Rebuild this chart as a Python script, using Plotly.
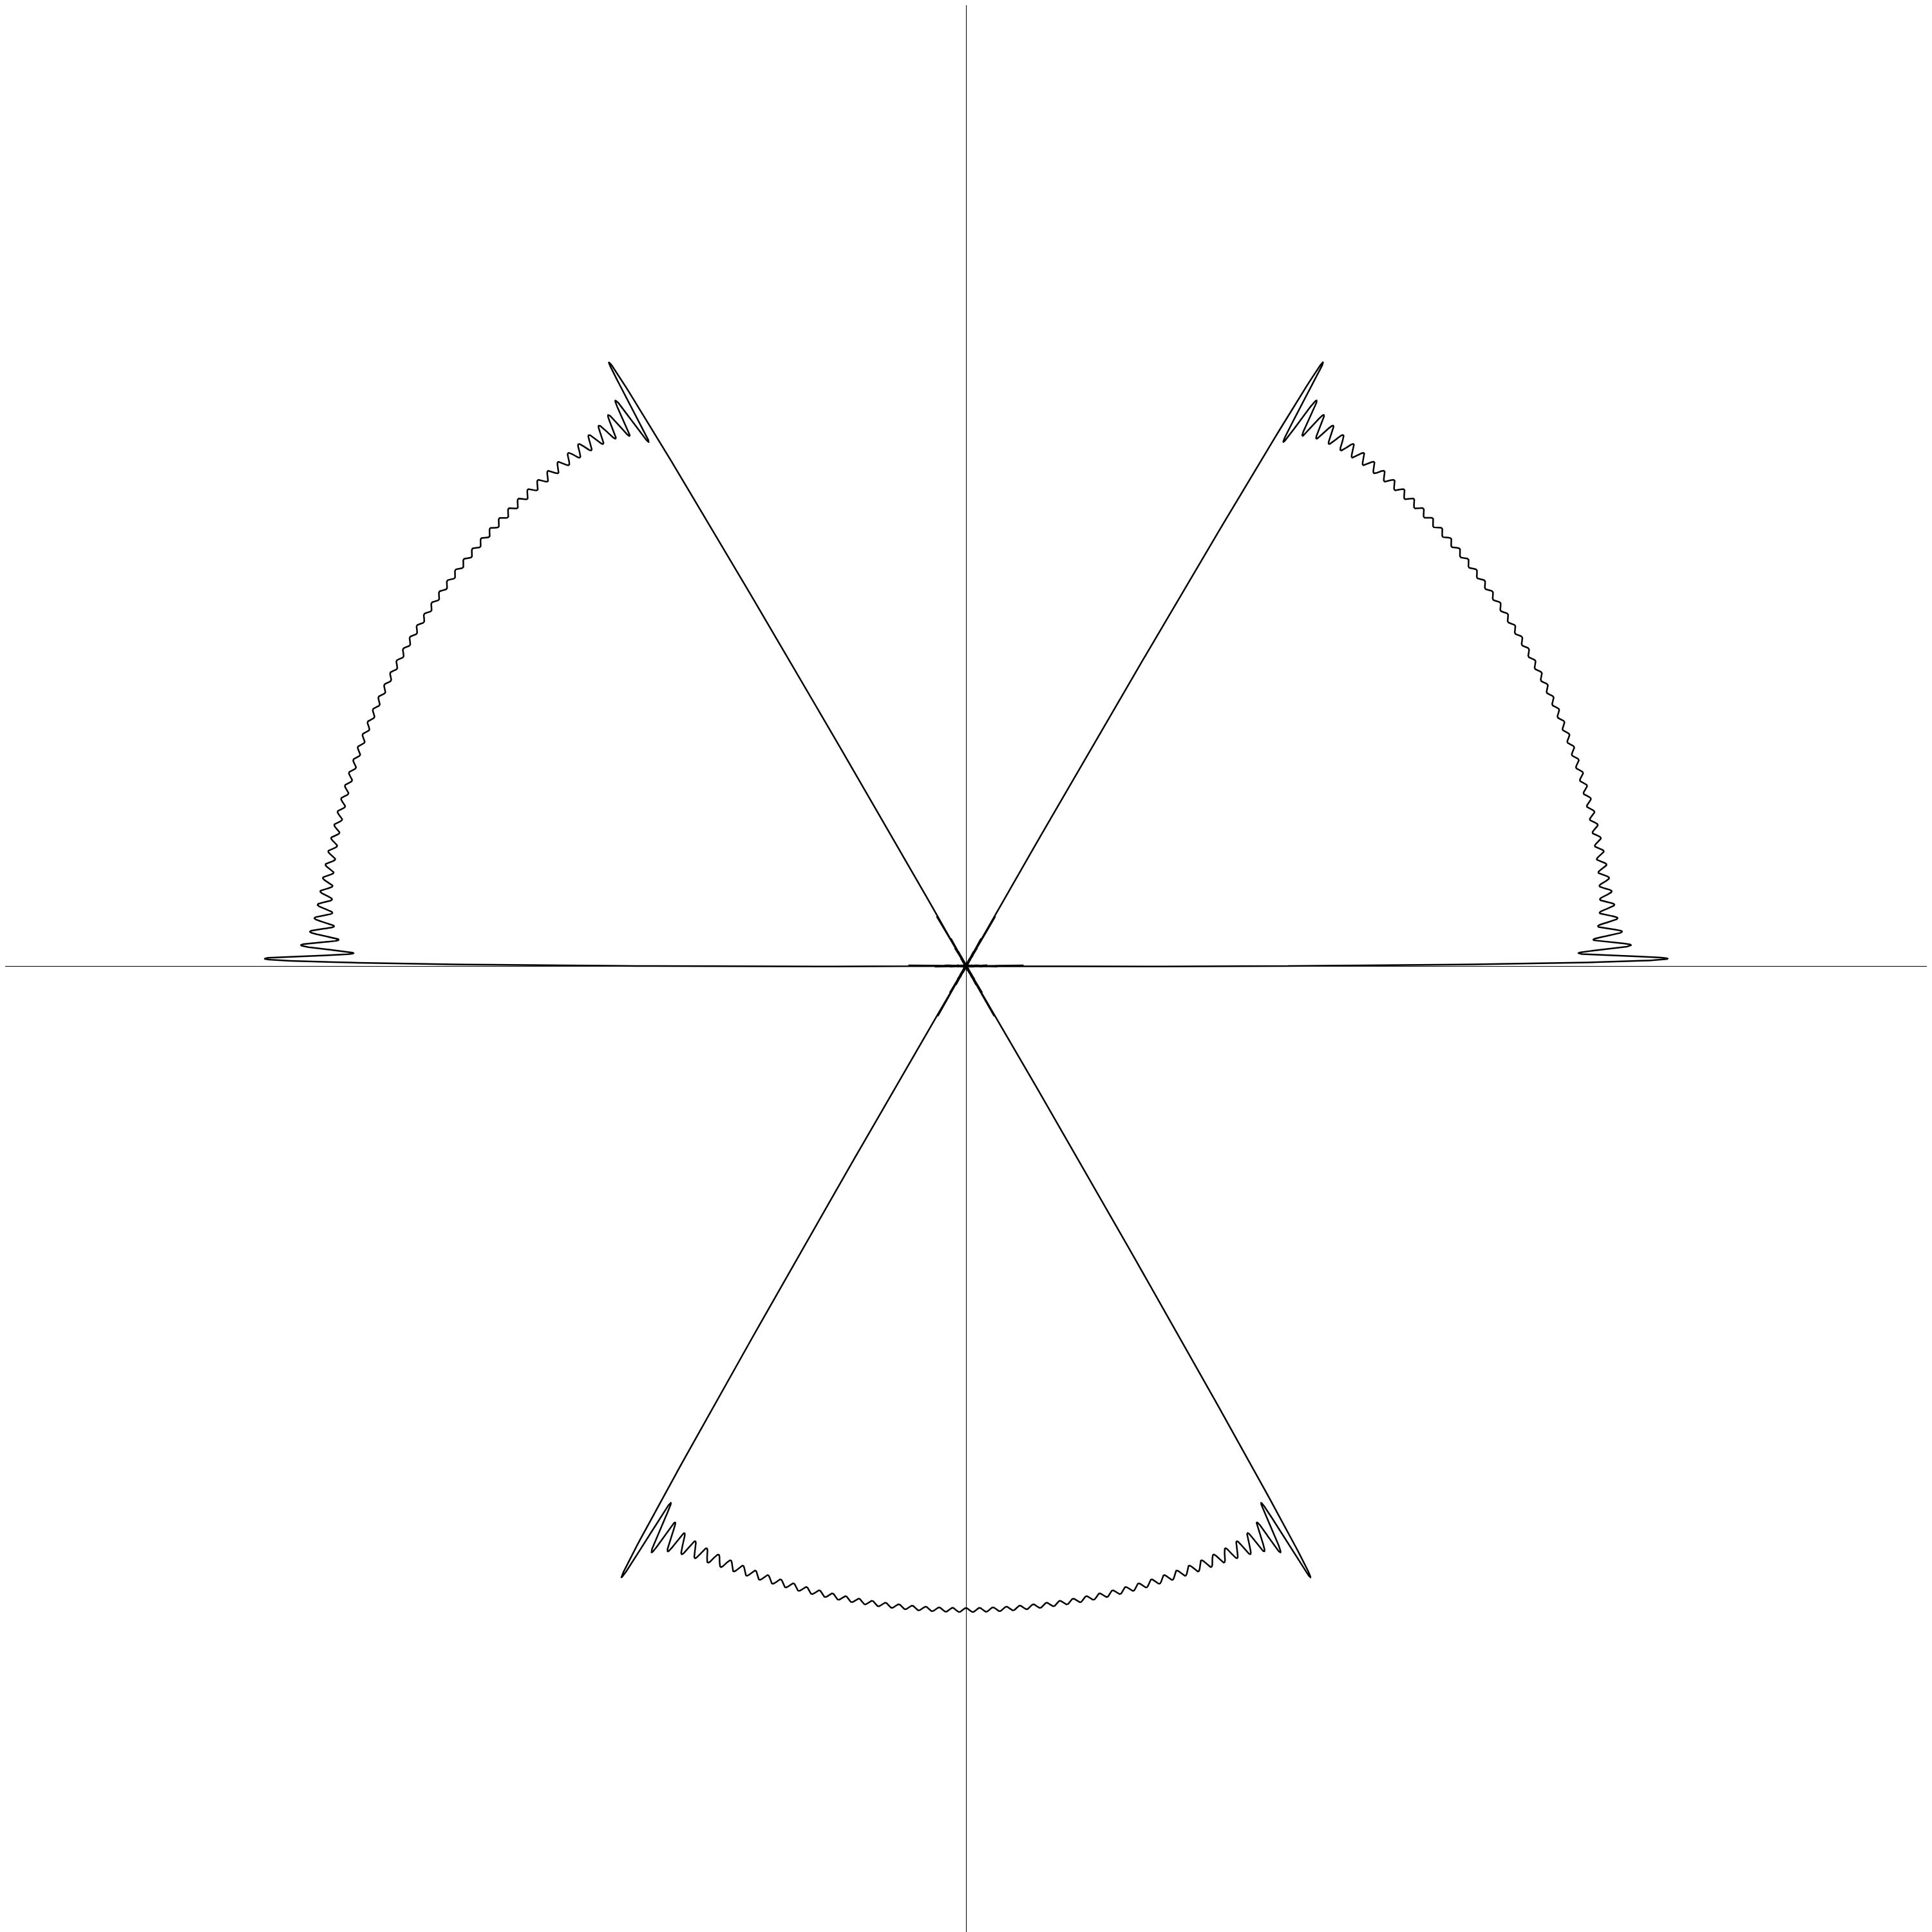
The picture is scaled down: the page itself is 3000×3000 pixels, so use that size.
import numpy as np
import plotly.graph_objects as go

# Curve definition: polar curve r(theta) = truncated Fourier series of a square wave
# with three lobes (period 120 degrees), showing Gibbs ripples.
N_TERMS = 50            # number of odd harmonics kept
LOBES = 3               # angular frequency of the square wave
DC_LEVEL = 0.5          # mean radius
AMPLITUDE = 0.5         # half the jump (r goes between 0 and 1)
N_SAMPLES = 24000       # samples of theta over a full turn
X_RANGE = [-1.492, 1.508]
Y_RANGE = [-1.508, 1.492]

theta = np.linspace(0, 2 * np.pi, N_SAMPLES)
harmonics = np.arange(1, 2 * N_TERMS, 2)
r = DC_LEVEL + AMPLITUDE * (4 / np.pi) * np.sum(
    np.sin(np.outer(LOBES * theta, harmonics)) / harmonics, axis=1
)
x = r * np.cos(theta)
y = r * np.sin(theta)

fig = go.Figure(
    go.Scatter(x=x, y=y, mode="lines", line=dict(color="black", width=2.5),
               hoverinfo="skip", showlegend=False)
)
axis_style = dict(
    showgrid=False, showticklabels=False, ticks="",
    zeroline=True, zerolinecolor="black", zerolinewidth=1, showline=False,
)
fig.update_layout(
    width=3000, height=3000, margin=dict(l=0, r=0, t=0, b=0),
    paper_bgcolor="white", plot_bgcolor="white",
    xaxis=dict(axis_style, range=X_RANGE),
    yaxis=dict(axis_style, range=Y_RANGE),
)
fig.write_html("out.html")
